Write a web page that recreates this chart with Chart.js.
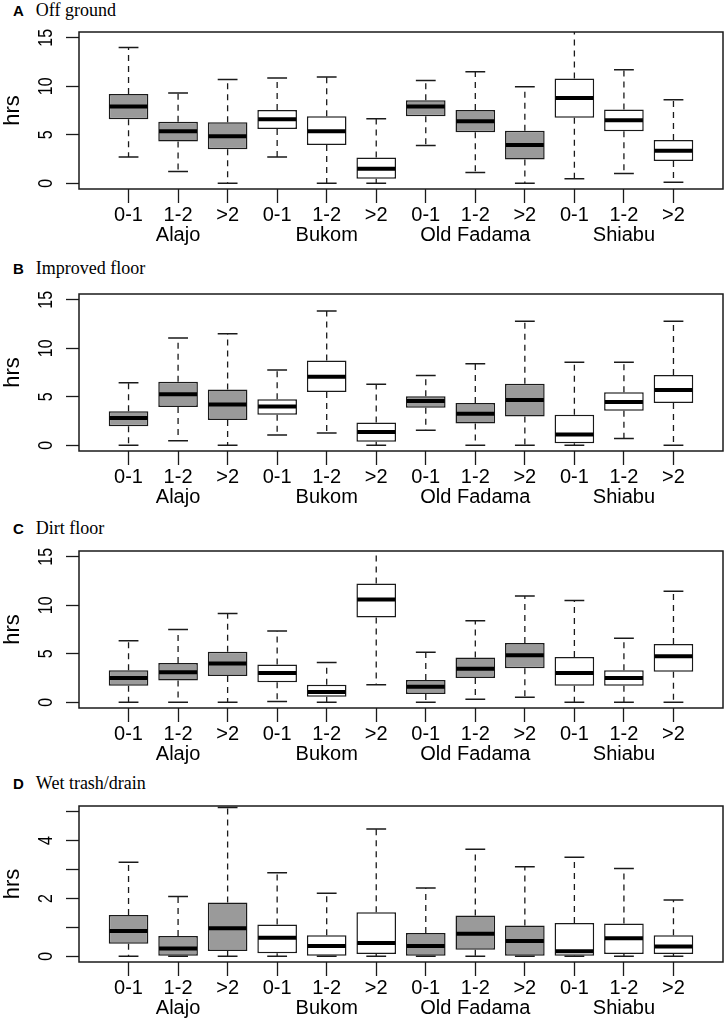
<!DOCTYPE html>
<html>
<head>
<meta charset="utf-8">
<script src="https://cdn.jsdelivr.net/npm/chart.js@4.4.0/dist/chart.umd.min.js"></script>
<style>
  html, body { margin: 0; padding: 0; background: #fff; }
  body { width: 725px; height: 1020px; position: relative; overflow: hidden; }
  canvas { position: absolute; left: 0; }
  .ttl { position: absolute; left: 13px; height: 18px; line-height: 18px; white-space: nowrap; color: #000;
         font: 18px "Liberation Serif", "Times New Roman", serif; }
  .ttl b { font: bold 15px "Liberation Sans", Arial, sans-serif; }
  .ttl span { margin-left: 12px; }
</style>
</head>
<body>
<div class="ttl" style="top:0px"><b>A</b><span>Off ground</span></div>
<div class="ttl" style="top:258.4px"><b>B</b><span>Improved floor</span></div>
<div class="ttl" style="top:517.9px"><b>C</b><span>Dirt floor</span></div>
<div class="ttl" style="top:772.9px"><b>D</b><span>Wet trash/drain</span></div>
<canvas id="cA"></canvas>
<canvas id="cB"></canvas>
<canvas id="cC"></canvas>
<canvas id="cD"></canvas>
<script>
// ---------- categories ----------
const groups = ['Alajo', 'Bukom', 'Old Fadama', 'Shiabu'];
const bins = ['0-1', '1-2', '>2'];
const groupFill = ['#9a9a9a', '#ffffff', '#9a9a9a', '#ffffff'];

// ---------- y ticks ----------
const yTicksHrs = [0, 5, 10, 15];
const yTickLabelsHrs = ['0', '5', '10', '15'];
const yTicksWet = [0, 1, 2, 3, 4, 5];
const yTickLabelsWet = ['0', '', '2', '', '4', ''];

// ---------- A: Off ground ----------
const offLow  = [2.7, 1.2, 0, 2.7, 0, 0, 3.9, 1.1, 0, 0.45, 1.0, 0.1];
const offQ1   = [6.6, 4.3, 3.5, 5.6, 3.95, 0.45, 6.9, 5.25, 2.45, 6.75, 5.35, 2.3];
const offMed  = [7.9, 5.35, 4.85, 6.6, 5.35, 1.5, 7.9, 6.4, 3.95, 8.8, 6.5, 3.35];
const offQ3   = [9.2, 6.35, 6.3, 7.55, 6.9, 2.65, 8.55, 7.55, 5.4, 10.8, 7.6, 4.45];
const offHigh = [14.0, 9.3, 10.7, 10.85, 10.95, 6.65, 10.6, 11.5, 9.95, 16.5, 11.7, 8.6];

// ---------- B: Improved floor ----------
const impLow  = [0, 0.45, 0, 1.05, 1.25, 0, 1.55, 0, 0, 0, 0.7, 0];
const impQ1   = [1.95, 3.95, 2.6, 3.15, 5.5, 0.35, 3.85, 2.25, 2.95, 0.2, 3.55, 4.35];
const impMed  = [2.8, 5.25, 4.2, 4.0, 7.05, 1.35, 4.55, 3.25, 4.65, 1.1, 4.45, 5.7];
const impQ3   = [3.5, 6.55, 5.75, 4.75, 8.75, 2.35, 5.05, 4.35, 6.35, 3.15, 5.45, 7.25];
const impHigh = [6.45, 11.05, 11.5, 7.75, 13.85, 6.3, 7.2, 8.4, 12.8, 8.55, 8.55, 12.8];

// ---------- C: Dirt floor ----------
const dirtLow  = [0, 0, 0, 0.07, 0, 1.8, 0, 0.3, 0.5, 0, 0, 0];
const dirtQ1   = [1.7, 2.25, 2.7, 2.05, 0.55, 8.75, 0.85, 2.5, 3.5, 1.7, 1.7, 3.15];
const dirtMed  = [2.5, 3.1, 4.0, 3.0, 1.05, 10.6, 1.6, 3.45, 4.85, 3.0, 2.5, 4.75];
const dirtQ3   = [3.3, 4.05, 5.2, 3.9, 1.8, 12.25, 2.3, 4.6, 6.1, 4.65, 3.3, 6.0];
const dirtHigh = [6.35, 7.5, 9.15, 7.35, 4.1, 16.5, 5.15, 8.4, 10.95, 10.5, 6.6, 11.45];

// ---------- D: Wet trash/drain ----------
const wetLow  = [0, 0, 0, 0, 0, 0, 0, 0, 0, 0, 0, 0];
const wetQ1   = [0.43, 0, 0.18, 0.1, 0, 0.08, 0, 0.22, 0, 0.02, 0.08, 0.08];
const wetMed  = [0.87, 0.27, 0.97, 0.64, 0.35, 0.46, 0.35, 0.78, 0.53, 0.17, 0.62, 0.34];
const wetQ3   = [1.43, 0.7, 1.86, 1.1, 0.73, 1.52, 0.8, 1.41, 1.06, 1.15, 1.13, 0.73];
const wetHigh = [3.25, 2.07, 5.15, 2.89, 2.18, 4.4, 2.36, 3.7, 3.1, 3.43, 3.04, 1.95];

// ---------- build category labels (padded with empty slot each side) ----------
const xLabels = [''];
const boxFills = [null];
groups.forEach((g, gi) => {
  bins.forEach((b, bi) => {
    xLabels.push(bi === 1 ? [b, g] : b);
    boxFills.push(groupFill[gi]);
  });
});
xLabels.push('');
boxFills.push(null);

const INK = '#1a1a1a';
const FONT = '"Liberation Sans", Arial, sans-serif';

const boxPlugin = {
  id: 'boxWhisker',
  afterDatasetsDraw(chart, args, opts) {
    const { ctx, chartArea: ca } = chart;
    const y = chart.scales.y;
    const meta = chart.getDatasetMeta(0);
    ctx.save();
    ctx.beginPath();
    ctx.rect(ca.left, ca.top, ca.right - ca.left, ca.bottom - ca.top);
    ctx.clip();
    opts.med.forEach((m, k) => {
      const el = meta.data[k + 1];
      const box = chart.data.datasets[0].data[k + 1];
      const x = el.x, hw = el.width / 2;
      const pq1 = y.getPixelForValue(box[0]);
      const pq3 = y.getPixelForValue(box[1]);
      const plo = y.getPixelForValue(opts.low[k]);
      const phi = y.getPixelForValue(opts.high[k]);
      const pm = y.getPixelForValue(m);
      ctx.strokeStyle = INK;
      ctx.lineWidth = 1.3;
      ctx.setLineDash([6, 5]);
      ctx.beginPath();
      ctx.moveTo(x, pq3); ctx.lineTo(x, phi);
      ctx.moveTo(x, pq1); ctx.lineTo(x, plo);
      ctx.stroke();
      ctx.setLineDash([]);
      ctx.lineWidth = 1.5;
      ctx.beginPath();
      ctx.moveTo(x - hw / 2, phi); ctx.lineTo(x + hw / 2, phi);
      ctx.moveTo(x - hw / 2, plo); ctx.lineTo(x + hw / 2, plo);
      ctx.stroke();
      ctx.strokeStyle = '#000';
      ctx.lineWidth = 4;
      ctx.beginPath();
      ctx.moveTo(x - hw + 0.8, pm); ctx.lineTo(x + hw - 0.8, pm);
      ctx.stroke();
    });
    ctx.restore();
    ctx.save();
    ctx.strokeStyle = INK;
    ctx.lineWidth = 1.5;
    ctx.strokeRect(ca.left, ca.top, ca.right - ca.left, ca.bottom - ca.top);
    ctx.restore();
  },
  afterDraw(chart, args, opts) {
    // rotated y tick labels (R style, reading bottom-to-top)
    const { ctx } = chart;
    const y = chart.scales.y;
    ctx.save();
    ctx.fillStyle = '#000';
    ctx.font = '20px ' + FONT;
    ctx.textAlign = 'center';
    ctx.textBaseline = 'middle';
    y.ticks.forEach((t, i) => {
      const lab = opts.tickLabels[i];
      if (!lab) return;
      ctx.save();
      ctx.translate(46, y.getPixelForValue(t.value));
      ctx.rotate(-Math.PI / 2);
      ctx.scale(0.8, 1);
      ctx.fillText(lab, 0, 0);
      ctx.restore();
    });
    ctx.restore();
  }
};

function makePanel(id, plotTop, plotH, low, q1, med, q3, high, yMin, yMax, yTicks, yTickLabels) {
  const padTop = 10, axisH = 62;
  const cv = document.getElementById(id);
  cv.width = 725;
  cv.height = padTop + plotH + axisH;
  cv.style.top = (plotTop - padTop) + 'px';
  const boxes = [null];
  q1.forEach((v, k) => boxes.push([v, q3[k]]));
  boxes.push(null);
  return new Chart(cv, {
    type: 'bar',
    data: {
      labels: xLabels,
      datasets: [{
        data: boxes,
        backgroundColor: boxFills,
        borderColor: INK,
        borderWidth: 1.5,
        borderSkipped: false,
        categoryPercentage: 0.8,
        barPercentage: 1.0
      }]
    },
    options: {
      responsive: false,
      animation: false,
      devicePixelRatio: 1,
      layout: { padding: { top: padTop, left: 0, right: 1, bottom: 0 } },
      plugins: {
        legend: { display: false },
        tooltip: { enabled: false },
        title: { display: false },
        boxWhisker: { low, med, high, tickLabels: yTickLabels }
      },
      scales: {
        x: {
          type: 'category',
          offset: false,
          afterFit: s => { s.height = axisH; },
          grid: {
            offset: false, drawOnChartArea: false, drawTicks: true, tickLength: 14, tickWidth: 1.3,
            tickColor: c => (c.index === 0 || c.index === xLabels.length - 1) ? 'rgba(0,0,0,0)' : INK
          },
          border: { display: false },
          ticks: {
            autoSkip: false, maxRotation: 0, minRotation: 0, padding: 2, color: '#000',
            font: { family: FONT, size: 20, lineHeight: 1.0 }
          }
        },
        y: {
          type: 'linear',
          min: yMin, max: yMax,
          afterBuildTicks: s => { s.ticks = yTicks.map(v => ({ value: v })); },
          afterFit: s => { s.width = 79; },
          grid: { drawOnChartArea: false, drawTicks: true, tickLength: 13, tickWidth: 1.3, tickColor: INK },
          border: { display: false },
          ticks: { display: false },
          title: {
            display: true, text: 'hrs', color: '#000',
            font: { family: FONT, size: 22, lineHeight: 1.2 },
            padding: { top: -0.5, bottom: 0 }
          }
        }
      }
    },
    plugins: [boxPlugin]
  });
}

makePanel('cA', 32, 157, offLow, offQ1, offMed, offQ3, offHigh, -0.6, 15.6, yTicksHrs, yTickLabelsHrs);
makePanel('cB', 293.5, 157, impLow, impQ1, impMed, impQ3, impHigh, -0.6, 15.6, yTicksHrs, yTickLabelsHrs);
makePanel('cC', 551, 157, dirtLow, dirtQ1, dirtMed, dirtQ3, dirtHigh, -0.6, 15.6, yTicksHrs, yTickLabelsHrs);
makePanel('cD', 806, 156.5, wetLow, wetQ1, wetMed, wetQ3, wetHigh, -0.2, 5.2, yTicksWet, yTickLabelsWet);
</script>
</body>
</html>
